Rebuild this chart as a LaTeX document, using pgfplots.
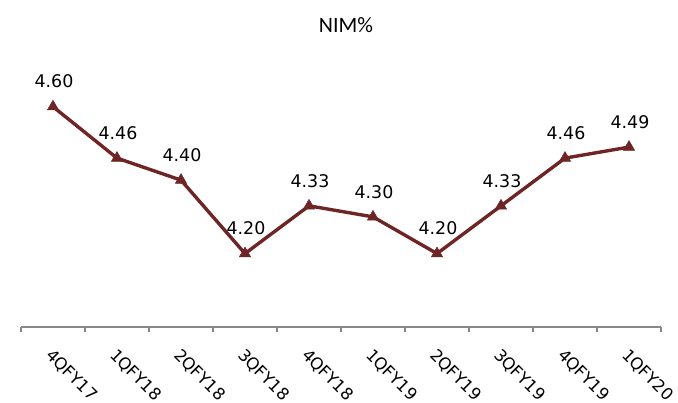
\documentclass[border=0pt]{standalone}
\usepackage{pgfplots}
\pgfplotsset{compat=1.18}
\usepackage{fontspec}
\setmainfont{DejaVu Sans}
\newfontfamily\titlefont{Carlito}
\definecolor{nimline}{HTML}{6E2525}
\definecolor{axisgray}{HTML}{888888}

\pgfplotstableread{
x nim
0 4.60
1 4.46
2 4.40
3 4.20
4 4.33
5 4.30
6 4.20
7 4.33
8 4.46
9 4.49
}\nimdata

\begin{document}
\begin{tikzpicture}
\begin{axis}[
  name=nim,
  scale only axis,
  width=640bp, height=257bp,
  xmin=-0.5, xmax=9.5,
  ymin=4.0, ymax=4.7,
  hide y axis,
  axis x line*=bottom,
  x axis line style={draw=axisgray, line width=1.2pt, -},
  xtick={0,...,9},
  xticklabels={4QFY17,1QFY18,2QFY18,3QFY18,4QFY18,1QFY19,2QFY19,3QFY19,4QFY19,1QFY20},
  major tick length=0pt,
  minor xtick={-0.5,0.5,...,9.5},
  minor tick length=5bp,
  tick align=outside,
  minor tick style={draw=axisgray, line width=1.2pt},
  xticklabel style={xshift=1bp, yshift=-19bp, rotate=-45, anchor=north west, inner sep=1bp, font=\fontsize{16.5}{19}\selectfont},
  clip=false,
  nodes near coords,
  point meta=explicit symbolic,
  every node near coord/.append style={font=\fontsize{17.5}{20}\selectfont, text=black, anchor=south, yshift=15bp, xshift=1bp},
]
\addplot[color=nimline, line width=3.4pt, mark=triangle*, mark size=6.5bp, mark options={solid, line width=0.5pt}]
  table[x=x, y=nim, meta=nim] {\nimdata};
\node[font=\titlefont\fontsize{22}{26}\selectfont, anchor=center] at ([xshift=5bp, yshift=45bp]rel axis cs:0.5,1) {NIM\%};
\end{axis}
\pgfresetboundingbox
\useasboundingbox ([xshift=-21bp, yshift=-76bp]nim.south west) rectangle ([xshift=17bp, yshift=70bp]nim.north east);
\end{tikzpicture}
\end{document}
